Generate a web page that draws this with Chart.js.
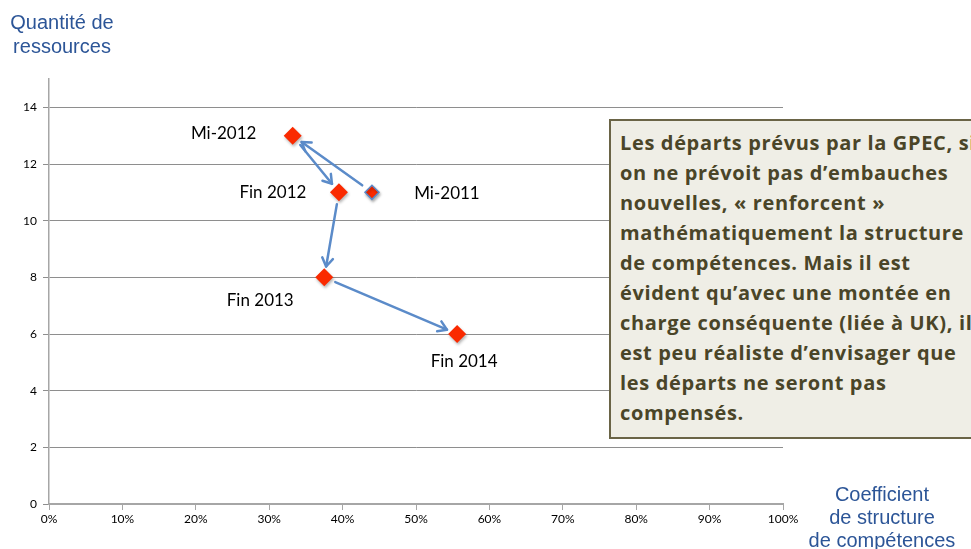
<!DOCTYPE html>
<html><head><meta charset="utf-8">
<script src="https://cdn.jsdelivr.net/npm/chart.js@4.4.0/dist/chart.umd.min.js"></script>
<style>
html,body{margin:0;padding:0;background:#fff;overflow:hidden}
#wrap{position:relative;width:971px;height:549px}
canvas{position:absolute;left:0;top:0}
.blue{position:absolute;font-family:"Liberation Sans",Arial,sans-serif;font-size:20px;color:#2C5597;text-align:center;line-height:23px}
#box{position:absolute;left:609px;top:119px;width:380px;height:316px;background:#EFEEE6;border:2px solid #6A6446;box-sizing:content-box}
#box div{font-family:"Open Sans",sans-serif;font-weight:bold;font-size:20px;letter-spacing:0.65px;color:#4A4528;line-height:30px;white-space:nowrap;padding-left:9px}
</style></head>
<body><div id="wrap">
<canvas id="c" width="971" height="549"></canvas>
<div class="blue" style="left:2px;top:10px;width:120px;line-height:24px">Quantité de<br>ressources</div>
<div class="blue" style="left:792px;top:483px;width:180px">Coefficient<br>de structure<br>de compétences</div>
<div id="box"><div style="padding-top:7px">Les départs prévus par la GPEC, si</div><div>on ne prévoit pas d’embauches</div><div>nouvelles, « renforcent »</div><div>mathématiquement la structure</div><div>de compétences. Mais il est</div><div>évident qu’avec une montée en</div><div>charge conséquente (liée à UK), il</div><div>est peu réaliste d’envisager que</div><div>les départs ne seront pas</div><div>compensés.</div></div>
</div>
<script>
// Data (chronological order)
const periods = ["Mi-2011", "Mi-2012", "Fin 2012", "Fin 2013", "Fin 2014"];
const competenceCoef = [44.0, 33.2, 39.5, 37.5, 55.6];   // % (x)
const resources = [11.0, 13.0, 11.0, 8.0, 6.0];          // (y)
const yTicks = [0, 2, 4, 6, 8, 10, 12, 14];
const xTicks = [0, 10, 20, 30, 40, 50, 60, 70, 80, 90, 100];

const points = periods.map((p, i) => ({x: competenceCoef[i], y: resources[i]}));

const labelPlacement = {
  "Mi-2011": {dx: 75, dy: 1},
  "Mi-2012": {dx: -69, dy: -2},
  "Fin 2012": {dx: -66, dy: 0},
  "Fin 2013": {dx: -64, dy: 23},
  "Fin 2014": {dx: 7, dy: 28}
};

const arrowPlugin = {
  id: 'arrows',
  beforeDatasetsDraw(chart) {
    const meta = chart.getDatasetMeta(0);
    const ctx = chart.ctx;
    ctx.save();
    ctx.strokeStyle = '#5B8BC9';
    ctx.lineWidth = 2.5;
    ctx.lineCap = 'round';
    ctx.lineJoin = 'round';
    for (let i = 0; i < meta.data.length - 1; i++) {
      const a = meta.data[i], b = meta.data[i + 1];
      const dx = b.x - a.x, dy = b.y - a.y;
      const len = Math.hypot(dx, dy);
      const ux = dx / len, uy = dy / len;
      const sx = a.x + ux * 12, sy = a.y + uy * 12;
      const ex = b.x - ux * 11, ey = b.y - uy * 11;
      ctx.beginPath();
      ctx.moveTo(sx, sy);
      ctx.lineTo(ex, ey);
      ctx.stroke();
      const ang = Math.atan2(uy, ux);
      const hl = 10, ha = Math.PI / 5.5;
      ctx.beginPath();
      ctx.moveTo(ex - hl * Math.cos(ang - ha), ey - hl * Math.sin(ang - ha));
      ctx.lineTo(ex, ey);
      ctx.lineTo(ex - hl * Math.cos(ang + ha), ey - hl * Math.sin(ang + ha));
      ctx.stroke();
    }
    ctx.restore();
  },
  beforeDatasetDraw(chart) {
    const ctx = chart.ctx;
    ctx.save();
    ctx.shadowColor = 'rgba(0,0,0,0.3)';
    ctx.shadowBlur = 3;
    ctx.shadowOffsetX = 1;
    ctx.shadowOffsetY = 2;
  },
  afterDatasetDraw(chart) {
    chart.ctx.restore();
  },
  afterDatasetsDraw(chart) {
    const meta = chart.getDatasetMeta(0);
    const ctx = chart.ctx;
    ctx.save();
    ctx.font = '17px Lato, sans-serif';
    ctx.fillStyle = '#000';
    ctx.textAlign = 'center';
    ctx.textBaseline = 'middle';
    meta.data.forEach((pt, i) => {
      const pl = labelPlacement[periods[i]];
      ctx.fillText(periods[i], pt.x + pl.dx, pt.y + pl.dy);
    });
    ctx.restore();
  }
};

new Chart(document.getElementById('c'), {
  type: 'scatter',
  data: {
    datasets: [{
      data: points,
      pointStyle: 'rectRot',
      pointRadius: [7, 9, 9, 9, 9],
      pointHoverRadius: [7, 9, 9, 9, 9],
      backgroundColor: '#FA2A00',
      borderColor: ['#5B8BC9', '#FA2A00', '#FA2A00', '#FA2A00', '#FA2A00'],
      borderWidth: [1.5, 0, 0, 0, 0],
      showLine: false
    }]
  },
  options: {
    responsive: false,
    animation: false,
    events: [],
    layout: {padding: {left: 0, top: 79, right: 188, bottom: 0}},
    plugins: {legend: {display: false}, tooltip: {enabled: false}},
    scales: {
      x: {
        type: 'linear', min: 0, max: 100,
        afterFit(s) { s.height = 45; },
        afterBuildTicks(s) { s.ticks = xTicks.map(v => ({value: v})); },
        border: {color: '#A6A6A6', width: 2},
        grid: {drawOnChartArea: false, drawTicks: true, tickLength: 6, color: '#A6A6A6', lineWidth: 1},
        ticks: {callback: v => v + '%', color: '#000', font: {family: 'Lato', size: 12}, padding: 2, maxRotation: 0}
      },
      y: {
        type: 'linear', min: 0, max: 15,
        afterFit(s) { s.width = 49; },
        afterBuildTicks(s) { s.ticks = yTicks.map(v => ({value: v})); },
        border: {color: '#A6A6A6', width: 1.5},
        grid: {color: '#8E8E8E', lineWidth: 1, tickLength: 6},
        ticks: {color: '#000', font: {family: 'Lato', size: 12}, padding: 6}
      }
    }
  },
  plugins: [arrowPlugin]
});
</script>
</body></html>
